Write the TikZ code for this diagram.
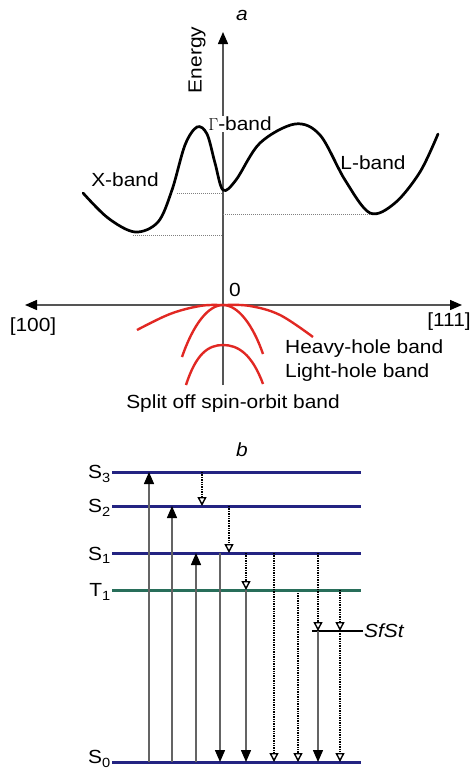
\documentclass[tikz,border=0pt]{standalone}
\usepackage{fontspec}
\setmainfont[FakeStretch=1.1]{Liberation Sans}
\usepackage{tikz}
\usetikzlibrary{arrows.meta}

\definecolor{levelblue}{RGB}{35,35,130}
\definecolor{tripletgreen}{RGB}{40,110,90}
\definecolor{holered}{RGB}{225,40,35}
\definecolor{axisgray}{RGB}{85,85,85}
\definecolor{linegray}{RGB}{100,100,100}

\begin{document}
\begin{tikzpicture}[x=1pt, y=-1pt,
  lbl/.style={font=\fontsize{19}{22}\selectfont, inner sep=1pt},
  axis/.style={draw=axisgray, line width=1.4pt},
  band/.style={draw=black, line width=2.7pt, line cap=round},
  hole/.style={draw=holered, line width=2.4pt},
  guide/.style={draw=gray, densely dotted, line width=1pt},
  level/.style={draw=levelblue, line width=3pt},
  up/.style={draw=linegray, line width=1.4pt, -{Triangle[length=12pt,width=10pt,black]}},
  down/.style={draw=linegray, line width=1.4pt, -{Triangle[length=12pt,width=10pt,black]}},
  relax/.style={draw=black, densely dotted, line width=1.4pt, -{Triangle[length=9pt,width=9pt,fill=white]}}
]
\useasboundingbox (0,0) rectangle (474,771);

% (a) band structure
\coordinate (ybot) at (223,385);
\coordinate (ytop) at (223,32);
\coordinate (xl) at (25,305);
\coordinate (xr) at (462,305);
\draw[axis, -{Triangle[length=12pt,width=10pt,black]}] (ybot) -- (ytop);
\draw[axis, {Triangle[length=12pt,width=10pt,black]}-{Triangle[length=12pt,width=10pt,black]}] (xl) -- (xr);

\node[lbl] (tagA) at (242,15) {\textit{a}};
\node[lbl, rotate=90] (energy) at (197,60) {Energy};
\node[lbl, fill=white] (gamma) at (240,124) {$\Gamma$-band};
\node[lbl] (xband) at (125,180) {X-band};
\node[lbl] (lband) at (373,163) {L-band};

\draw[guide] (177,193) -- (223,193);
\draw[guide] (133,235) -- (223,235);
\draw[guide] (223,214) -- (370,214);

\draw[band] plot[smooth, tension=0.55] coordinates {
  (83,193) (108,218) (135,232) (158,222) (172,190) (185,145) (197,127)
  (207,134) (215,163) (223,190) (236,180) (260,143) (295,124) (320,135)
  (345,180) (370,213) (395,203) (420,172) (438,134)};

% valence bands
\draw[hole] plot[smooth, tension=0.6] coordinates {
  (137,330) (170,314) (200,306) (223,305) (250,306) (280,315) (313,337)};
\draw[hole] (182,357) .. controls (193,325) and (208,305) .. (223,305)
  .. controls (238,305) and (253,325) .. (263,354);
\draw[hole] (186,385) .. controls (196,354) and (208,345) .. (223,345)
  .. controls (238,345) and (252,354) .. (263,384);

\node[lbl] (zero) at (235,290) {0};
\node[lbl] (dir100) at (33,327) {[100]};
\node[lbl] (dir111) at (449,322) {[111]};
\node[lbl, anchor=west] (heavy) at (284,349) {Heavy-hole band};
\node[lbl, anchor=west] (light) at (284,373) {Light-hole band};
\node[lbl] (split) at (233,404) {Split off spin-orbit band};

% (b) level scheme
\node[lbl] (tagB) at (242,450) {\textit{b}};

\coordinate (S3) at (112,472);  \coordinate (S3e) at (361,472);
\coordinate (S2) at (112,506);  \coordinate (S2e) at (361,506);
\coordinate (S1) at (112,553);  \coordinate (S1e) at (361,553);
\coordinate (T1) at (112,590);  \coordinate (T1e) at (361,590);
\coordinate (S0) at (112,762);  \coordinate (S0e) at (361,762);
\coordinate (SS) at (312,631);  \coordinate (SSe) at (363,631);
\coordinate (T1d) at (112,593);

\draw[level] (S3) -- (S3e);
\draw[level] (S2) -- (S2e);
\draw[level] (S1) -- (S1e);
\draw[level, draw=tripletgreen] (T1) -- (T1e);
\draw[level] (S0) -- (S0e);
\draw[black, line width=2.4pt] (SS) -- (SSe);

\node[lbl, anchor=east] (S3lbl) at ([yshift=-2]S3) {S\textsubscript{3}};
\node[lbl, anchor=east] (S2lbl) at ([yshift=-2]S2) {S\textsubscript{2}};
\node[lbl, anchor=east] (S1lbl) at ([yshift=-2]S1) {S\textsubscript{1}};
\node[lbl, anchor=east] (T1lbl) at ([yshift=-2]T1) {T\textsubscript{1}};
\node[lbl, anchor=east] (S0lbl) at ([yshift=3]S0) {S\textsubscript{0}};
\node[lbl, anchor=west] (SSlbl) at (SSe) {\textit{SfSt}};

% absorption
\draw[up] (149,0 |- S0) -- (149,0 |- S3);
\draw[up] (172,0 |- S0) -- (172,0 |- S2);
\draw[up] (196,0 |- S0) -- (196,0 |- S1);

% radiative decay
\draw[down] (220,0 |- S1) -- (220,0 |- S0);
\draw[down] (246,0 |- T1) -- (246,0 |- S0);
\draw[down] (318,0 |- SS) -- (318,0 |- S0);

% nonradiative steps
\draw[relax] (202,0 |- S3) -- (202,0 |- S2);
\draw[relax] (229,0 |- S2) -- (229,0 |- S1);
\draw[relax] (246,0 |- S1) -- (246,0 |- T1);
\draw[relax] (274,0 |- S1) -- (274,0 |- S0);
\draw[relax] (298,0 |- T1d) -- (298,0 |- S0);
\draw[relax] (318,0 |- S1) -- (318,0 |- SS);
\draw[relax] (340,0 |- T1) -- (340,0 |- SS);
\draw[relax] (340,0 |- SS) -- (340,0 |- S0);
\end{tikzpicture}
\end{document}
